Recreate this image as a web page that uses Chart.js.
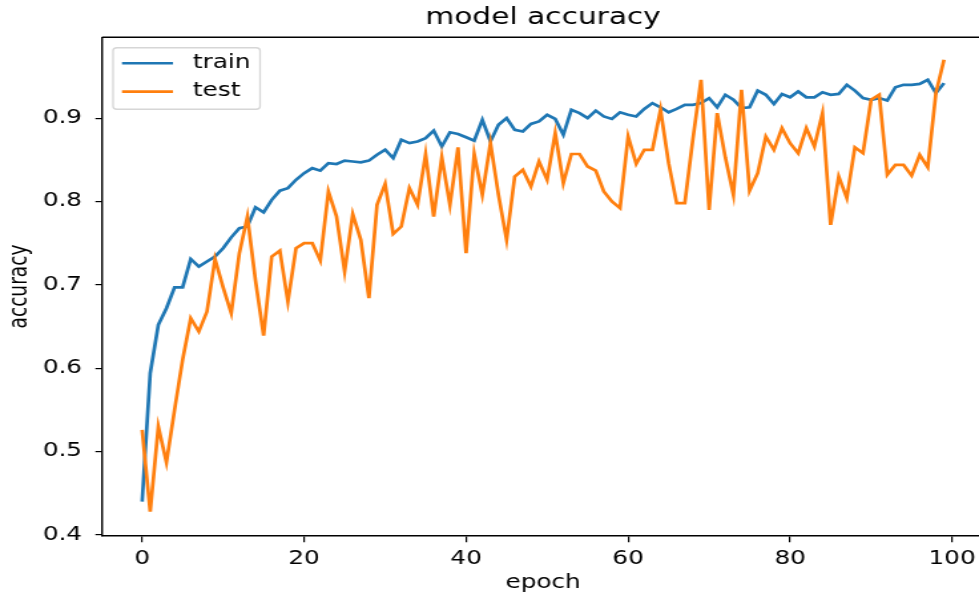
<!DOCTYPE html>
<html>
<head>
<meta charset="utf-8">
<script src="https://cdn.jsdelivr.net/npm/chart.js@4"></script>
<style>
  html, body { margin: 0; padding: 0; background: #fff; overflow: hidden; }
  #wrap { width: 742px; height: 594px; transform: scaleX(1.3302); transform-origin: 0 0; }
</style>
</head>
<body>
<div id="wrap"><canvas id="chart" width="742" height="594"></canvas></div>
<script>
const trainAcc = [
  0.440, 0.594, 0.652, 0.672, 0.697, 0.697, 0.731, 0.722, 0.728, 0.734,
  0.744, 0.757, 0.768, 0.770, 0.793, 0.787, 0.802, 0.813, 0.816, 0.826,
  0.834, 0.840, 0.837, 0.846, 0.845, 0.849, 0.848, 0.847, 0.849, 0.856,
  0.862, 0.852, 0.874, 0.870, 0.872, 0.876, 0.885, 0.866, 0.883, 0.881,
  0.877, 0.873, 0.898, 0.872, 0.892, 0.900, 0.886, 0.884, 0.893, 0.896,
  0.904, 0.899, 0.880, 0.910, 0.906, 0.900, 0.909, 0.902, 0.899, 0.907,
  0.904, 0.902, 0.911, 0.918, 0.913, 0.907, 0.911, 0.916, 0.916, 0.918,
  0.924, 0.913, 0.928, 0.922, 0.912, 0.913, 0.933, 0.928, 0.917, 0.929,
  0.925, 0.932, 0.925, 0.925, 0.931, 0.928, 0.929, 0.940, 0.933, 0.924,
  0.922, 0.924, 0.921, 0.937, 0.940, 0.940, 0.941, 0.946, 0.930, 0.942
];

const testAcc = [
  0.526, 0.428, 0.530, 0.487, 0.550, 0.610, 0.660, 0.644, 0.668, 0.731,
  0.697, 0.666, 0.738, 0.782, 0.705, 0.639, 0.734, 0.741, 0.680, 0.744,
  0.750, 0.750, 0.729, 0.812, 0.782, 0.716, 0.785, 0.754, 0.684, 0.796,
  0.821, 0.761, 0.770, 0.816, 0.796, 0.857, 0.782, 0.853, 0.796, 0.865,
  0.738, 0.857, 0.808, 0.870, 0.808, 0.754, 0.830, 0.838, 0.818, 0.848,
  0.826, 0.882, 0.822, 0.857, 0.857, 0.842, 0.837, 0.812, 0.800, 0.792,
  0.878, 0.845, 0.862, 0.862, 0.910, 0.846, 0.798, 0.798, 0.875, 0.946,
  0.790, 0.906, 0.853, 0.808, 0.934, 0.813, 0.834, 0.878, 0.862, 0.888,
  0.870, 0.858, 0.888, 0.866, 0.906, 0.772, 0.830, 0.804, 0.865, 0.858,
  0.922, 0.928, 0.832, 0.844, 0.844, 0.831, 0.856, 0.841, 0.930, 0.970
];

const epochs = trainAcc.map((_, i) => i);
const xTicks = [0, 20, 40, 60, 80, 100];
const yTicks = [0.4, 0.5, 0.6, 0.7, 0.8, 0.9];

const FONT = 'DejaVu Sans';
const FS = 18.6;

/* ---------- spines + legend drawn inside the axes ---------- */
const frame = {
  id: 'frame',
  afterDraw(chart) {
    const { ctx, chartArea: a } = chart;
    ctx.save();
    ctx.strokeStyle = '#000';
    ctx.lineWidth = 1.4;
    ctx.beginPath();
    ctx.moveTo(a.left, a.top);
    ctx.lineTo(a.right, a.top);
    ctx.lineTo(a.right, a.bottom);
    ctx.stroke();

    // legend (upper left, like matplotlib)
    const x = a.left + 8.3, y = a.top + 10.5, w = 110.5, h = 61.5;
    ctx.fillStyle = 'rgba(255,255,255,0.8)';
    ctx.strokeStyle = '#d6d6d6';
    ctx.lineWidth = 1.3;
    ctx.beginPath();
    ctx.roundRect(x, y, w, h, 3);
    ctx.fill();
    ctx.stroke();
    ctx.font = `${FS}px ${FONT}`;
    ctx.textBaseline = 'middle';
    ctx.textAlign = 'left';
    chart.data.datasets.forEach((ds, i) => {
      const ly = y + 15.5 + i * 28.3;
      ctx.strokeStyle = ds.borderColor;
      ctx.lineWidth = ds.borderWidth;
      ctx.beginPath();
      ctx.moveTo(x + 6.7, ly);
      ctx.lineTo(x + 45, ly);
      ctx.stroke();
      ctx.fillStyle = '#000';
      ctx.fillText(ds.label, x + 60, ly);
    });
    ctx.restore();
  }
};

new Chart(document.getElementById('chart'), {
  type: 'line',
  data: {
    datasets: [
      {
        label: 'train',
        data: trainAcc.map((v, i) => ({ x: epochs[i], y: v })),
        borderColor: '#1f77b4',
        borderWidth: 2.7,
        pointRadius: 0,
        tension: 0,
        order: 1
      },
      {
        label: 'test',
        data: testAcc.map((v, i) => ({ x: epochs[i], y: v })),
        borderColor: '#ff7f0e',
        borderWidth: 2.7,
        pointRadius: 0,
        tension: 0,
        order: 0
      }
    ]
  },
  options: {
    responsive: false,
    animation: false,
    layout: { padding: { top: 0, right: 2.2, bottom: 0, left: 0 } },
    plugins: {
      legend: { display: false },
      tooltip: { enabled: false },
      title: {
        display: true,
        text: 'model accuracy',
        fullSize: false,
        color: '#000',
        font: { family: FONT, size: 22.3, weight: 'normal' },
        padding: { top: 5, bottom: 5.5 }
      }
    },
    scales: {
      x: {
        type: 'linear',
        min: -4.95,
        max: 103.95,
        afterFit: (s) => { s.height = 58.2; },
        afterBuildTicks: (s) => { s.ticks = xTicks.map(v => ({ value: v })); },
        grid: { drawOnChartArea: false, color: '#000', tickLength: 6.5, lineWidth: 1.2 },
        border: { display: true, color: '#000', width: 1.4 },
        ticks: {
          color: '#000',
          padding: 6,
          maxRotation: 0,
          font: { family: FONT, size: FS },
          callback: (v) => String(v)
        },
        title: {
          display: true,
          text: 'epoch',
          color: '#000',
          font: { family: FONT, size: FS },
          padding: { top: 3, bottom: 0 }
        }
      },
      y: {
        type: 'linear',
        min: 0.399,
        max: 0.997,
        afterFit: (s) => { s.width = 76.7; },
        afterBuildTicks: (s) => { s.ticks = yTicks.map(v => ({ value: v })); },
        grid: { drawOnChartArea: false, color: '#000', tickLength: 5, lineWidth: 1.2 },
        border: { display: true, color: '#000', width: 1.4 },
        ticks: {
          color: '#000',
          padding: 10,
          font: { family: FONT, size: FS },
          callback: (v) => v.toFixed(1)
        },
        title: {
          display: true,
          text: 'accuracy',
          color: '#000',
          font: { family: FONT, size: FS },
          padding: { top: 4, bottom: 0 }
        }
      }
    }
  },
  plugins: [frame]
});
</script>
</body>
</html>
